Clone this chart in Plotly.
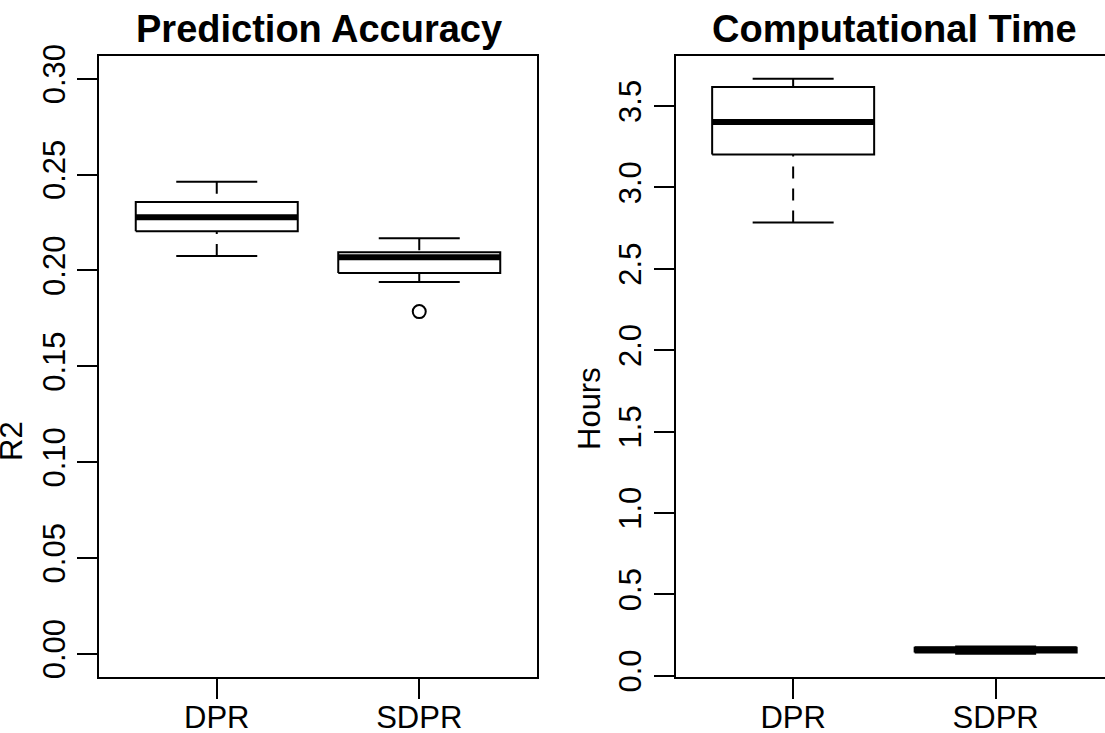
import plotly.graph_objects as go

# ---------------- data ----------------
categories = ["DPR", "SDPR"]
positions = [1, 2]

# Prediction accuracy (R2) box statistics
r2_whisker_low = [0.2075, 0.1939]
r2_q1 = [0.2204, 0.1986]
r2_median = [0.2277, 0.2068]
r2_q3 = [0.2357, 0.2094]
r2_whisker_high = [0.2462, 0.2167]
r2_outliers = [[], [0.1785]]
r2_ylim = [0.0, 0.30]
r2_tickvals = [0.00, 0.05, 0.10, 0.15, 0.20, 0.25, 0.30]
r2_ticktext = ["0.00", "0.05", "0.10", "0.15", "0.20", "0.25", "0.30"]

# Computational time (hours) box statistics
hours_whisker_low = [2.784, 0.135]
hours_q1 = [3.202, 0.143]
hours_median = [3.402, 0.162]
hours_q3 = [3.617, 0.172]
hours_whisker_high = [3.668, 0.180]
hours_outliers = [[], []]
hours_tickvals = [0.0, 0.5, 1.0, 1.5, 2.0, 2.5, 3.0, 3.5]
hours_ticktext = ["0.0", "0.5", "1.0", "1.5", "2.0", "2.5", "3.0", "3.5"]

titles = ["Prediction Accuracy", "Computational Time"]
ylabels = ["R2", "Hours"]

# ---------------- style ----------------
FONT = "Liberation Sans, Arial, Helvetica, sans-serif"
BOX_HALF = 0.4
CAP_HALF = 0.2
W, H = 1105, 733


def add_boxes(fig, xa, ya, low, q1, med, q3, high, outliers):
    bx, by, wx, wy, cx, cy, mx, my, ox, oy = [], [], [], [], [], [], [], [], [], []
    for i, c in enumerate(positions):
        bx += [c - BOX_HALF, c + BOX_HALF, c + BOX_HALF, c - BOX_HALF, c - BOX_HALF, None]
        by += [q1[i], q1[i], q3[i], q3[i], q1[i], None]
        wx += [c, c, None, c, c, None]
        wy += [low[i], q1[i], None, high[i], q3[i], None]
        cx += [c - CAP_HALF, c + CAP_HALF, None, c - CAP_HALF, c + CAP_HALF, None]
        cy += [low[i], low[i], None, high[i], high[i], None]
        mx += [c - BOX_HALF, c + BOX_HALF, None]
        my += [med[i], med[i], None]
        for v in outliers[i]:
            ox.append(c)
            oy.append(v)
    common = dict(xaxis=xa, yaxis=ya, showlegend=False, hoverinfo="skip")
    fig.add_trace(go.Scatter(x=wx, y=wy, mode="lines",
                             line=dict(color="black", width=2, dash="12px,10px"), **common))
    fig.add_trace(go.Scatter(x=cx, y=cy, mode="lines",
                             line=dict(color="black", width=2), **common))
    fig.add_trace(go.Scatter(x=bx, y=by, mode="lines",
                             line=dict(color="black", width=2), **common))
    fig.add_trace(go.Scatter(x=mx, y=my, mode="lines",
                             line=dict(color="black", width=6), **common))
    if ox:
        fig.add_trace(go.Scatter(x=ox, y=oy, mode="markers",
                                 marker=dict(symbol="circle-open", size=13, color="black",
                                             line=dict(width=2, color="black")), **common))


def padded(lo, hi):
    d = hi - lo
    return [lo - 0.04 * d, hi + 0.04 * d]


fig = go.Figure()
add_boxes(fig, "x", "y", r2_whisker_low, r2_q1, r2_median, r2_q3, r2_whisker_high, r2_outliers)
add_boxes(fig, "x2", "y2", hours_whisker_low, hours_q1, hours_median, hours_q3,
          hours_whisker_high, hours_outliers)

all_hours = hours_whisker_low + hours_whisker_high + [v for o in hours_outliers for v in o]
hours_range = padded(min(all_hours), max(all_hours))
r2_range = padded(r2_ylim[0], r2_ylim[1])
x_range = padded(0.5, 2.5)

# pixel geometry of plot regions
left_px = (99.3, 536.7)
right_px = (675.7, 1105.0)
top_px, bottom_px = 55.7, 676.7
px_per_unit = (left_px[1] - left_px[0]) / (x_range[1] - x_range[0])
x2_range = [x_range[0], x_range[0] + (right_px[1] - right_px[0]) / px_per_unit]

ydom = [1 - bottom_px / H, 1 - top_px / H]

axis_common = dict(
    showline=True, linewidth=2, linecolor="black",
    ticks="outside", ticklen=20, tickwidth=2, tickcolor="black",
    showgrid=False, zeroline=False, automargin=False, fixedrange=True,
    tickfont=dict(family=FONT, size=31, color="black"),
)

fig.update_layout(
    width=W, height=H,
    margin=dict(l=0, r=0, t=0, b=0),
    paper_bgcolor="white", plot_bgcolor="white",
    template="none",
    hovermode=False,
    xaxis=dict(domain=[left_px[0] / W, left_px[1] / W], range=x_range, anchor="y",
               tickvals=positions, ticktext=categories, mirror=True,
               ticklabelstandoff=-8, **axis_common),
    yaxis=dict(domain=ydom, range=r2_range, anchor="x",
               tickvals=r2_tickvals, ticktext=r2_ticktext, tickangle=-90, mirror=True,
               **axis_common),
    xaxis2=dict(domain=[right_px[0] / W, right_px[1] / W], range=x2_range, anchor="y2",
                tickvals=positions, ticktext=categories, mirror=True,
                ticklabelstandoff=-8, **axis_common),
    yaxis2=dict(domain=ydom, range=hours_range, anchor="x2",
                tickvals=hours_tickvals, ticktext=hours_ticktext, tickangle=-90, mirror=False,
                **axis_common),
)

annotations = [
    dict(text="<b>" + titles[0] + "</b>", x=319 / W, y=1 - 29.5 / H),
    dict(text="<b>" + titles[1] + "</b>", x=894.7 / W, y=1 - 29.5 / H),
]
for a in annotations:
    a.update(xref="paper", yref="paper", showarrow=False, xanchor="center", yanchor="middle",
             font=dict(family=FONT, size=38, color="black"))
    fig.add_annotation(**a)

for txt, xp, yp in [(ylabels[0], 12, 441), (ylabels[1], 589, 409)]:
    fig.add_annotation(text=txt, x=xp / W, y=1 - yp / H, xref="paper", yref="paper",
                       showarrow=False, xanchor="center", yanchor="middle", textangle=-90,
                       font=dict(family=FONT, size=31, color="black"))

fig.write_html("out.html")
